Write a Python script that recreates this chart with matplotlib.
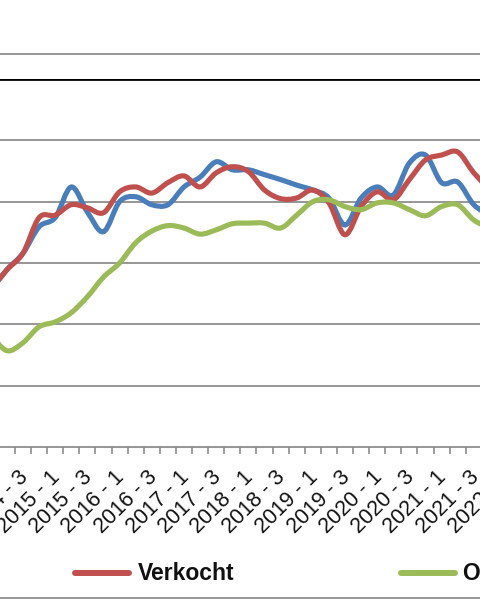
import numpy as np
import matplotlib
matplotlib.use('Agg')
import matplotlib.pyplot as plt
from matplotlib.path import Path
from matplotlib.patches import PathPatch
from matplotlib.lines import Line2D
from matplotlib.transforms import ScaledTranslation

plt.rcParams['font.family'] = ['Liberation Sans', 'DejaVu Sans']

# Quarter categories (2014 - 1 ... 2022 - 1)
quarters = ['2014 - 1', '2014 - 2', '2014 - 3', '2014 - 4',
            '2015 - 1', '2015 - 2', '2015 - 3', '2015 - 4',
            '2016 - 1', '2016 - 2', '2016 - 3', '2016 - 4',
            '2017 - 1', '2017 - 2', '2017 - 3', '2017 - 4',
            '2018 - 1', '2018 - 2', '2018 - 3', '2018 - 4',
            '2019 - 1', '2019 - 2', '2019 - 3', '2019 - 4',
            '2020 - 1', '2020 - 2', '2020 - 3', '2020 - 4',
            '2021 - 1', '2021 - 2', '2021 - 3', '2021 - 4',
            '2022 - 1']

series_blue_name = 'Te koop'
series_red_name = 'Verkocht'
series_green_name = 'Onder bod'

blue = [25.6, 28.9, 31.6, 35.9, 37.4, 42.4, 38.3, 35.1, 40.0, 40.8, 39.5,
        39.5, 42.4, 44.0, 46.5, 45.2, 45.2, 44.4, 43.6, 42.7, 41.9, 40.6,
        36.2, 40.6, 42.4, 41.1, 46.3, 47.6, 43.1, 43.2, 39.5, 37.8]
red = [25.6, 28.9, 31.6, 37.4, 37.8, 39.5, 39.0, 38.2, 41.6, 42.4, 41.4,
       43.1, 44.2, 42.4, 44.7, 45.7, 44.9, 41.9, 40.5, 40.6, 41.9, 39.8,
       34.6, 39.2, 41.6, 40.3, 43.6, 46.8, 47.6, 48.1, 44.7, 41.9]
green = [18.3, 15.7, 17.0, 19.6, 20.4, 21.9, 24.5, 27.7, 30.0, 33.3, 35.2,
         36.1, 35.7, 34.7, 35.4, 36.4, 36.5, 36.5, 35.7, 37.8, 40.0, 40.3,
         39.2, 38.7, 39.8, 39.8, 38.7, 37.7, 39.2, 39.5, 37.0, 35.7]

C_BLUE = '#4A7EBB'
C_RED = '#C0504D'
C_GREEN = '#9BBB59'
C_GRID = '#8E8E8E'
LABEL_FS = 15.5
LABEL_PAD = 14


def smooth_path(xs, ys):
    pts = np.column_stack([xs, ys]).astype(float)
    n = len(pts)
    verts = [pts[0]]
    codes = [Path.MOVETO]
    for i in range(n - 1):
        p0 = pts[i - 1] if i > 0 else pts[i]
        p1 = pts[i]
        p2 = pts[i + 1]
        p3 = pts[i + 2] if i + 2 < n else pts[i + 1]
        c1 = p1 + (p2 - p0) / 6.0
        c2 = p2 - (p3 - p1) / 6.0
        verts += [c1, c2, p2]
        codes += [Path.CURVE4] * 3
    return Path(verts, codes)


W, H = 480, 600
fig = plt.figure(figsize=(4.8, 6.0), dpi=100)

ax_bottom = 447
ax_top = 79
ax = fig.add_axes([0, 1 - ax_bottom / H, 1, (ax_bottom - ax_top) / H])

x_idx = np.arange(len(blue))
for vals, col in [(blue, C_BLUE), (red, C_RED), (green, C_GREEN)]:
    patch = PathPatch(smooth_path(x_idx, vals), facecolor='none', edgecolor=col,
                      lw=3.7, capstyle='round', joinstyle='round')
    ax.add_patch(patch)

ax.set_yticks([10, 20, 30, 40, 50])
ax.yaxis.grid(True, color=C_GRID, lw=1.3)
ax.axhline(60, color='black', lw=2.0, zorder=1)
ax.tick_params(axis='y', left=False, labelleft=False)

label_pos = np.arange(0, len(quarters), 2)
ax.set_xticks(label_pos)
ax.set_xticklabels([quarters[i] for i in label_pos], rotation=45, ha='right',
                   rotation_mode='anchor', fontsize=LABEL_FS, color='#111111')
ax.set_xticks(np.arange(-0.5, len(quarters), 1), minor=True)
ax.tick_params(axis='x', which='major', length=0, pad=LABEL_PAD)
ax.tick_params(axis='x', which='minor', length=5, width=1.2, color=C_GRID,
               direction='out')
shift = ScaledTranslation(-4 / 72, 0, fig.dpi_scale_trans)
for lab in ax.get_xticklabels():
    lab.set_transform(lab.get_transform() + shift)

# x range: category '2014 - 3' (idx 2) sits at pixel 23, 16.1 px per quarter
px_per_q = 16.1
x0 = 2 - 23 / px_per_q
ax.set_xlim(x0, x0 + W / px_per_q)
ax.set_ylim(0, 60)

# the last category label sits just past the right edge; only its start shows
last = len(quarters) - 1
ax.text(last, 0, quarters[last], rotation=45, ha='right', va='top',
        rotation_mode='anchor', fontsize=LABEL_FS, color='#111111',
        clip_on=False,
        transform=ax.get_xaxis_transform()
        + ScaledTranslation(-4 / 72, -LABEL_PAD / 72, fig.dpi_scale_trans))

for s in ['left', 'right', 'top']:
    ax.spines[s].set_visible(False)
ax.spines['bottom'].set_color(C_GRID)
ax.spines['bottom'].set_linewidth(1.3)
ax.set_axisbelow(True)

# chart border lines (top and bottom of chart area)
for yy in [54, 598]:
    fig.add_artist(Line2D([0, 1], [1 - yy / H] * 2, transform=fig.transFigure,
                          color=C_GRID, lw=1.3))

# legend (blue entry lies outside the visible area)
ly = 1 - 573 / H
for (xa, xb, col, tx, label) in [(75, 129, C_RED, 138, series_red_name),
                                 (401, 455, C_GREEN, 463, series_green_name)]:
    fig.add_artist(Line2D([xa / W, xb / W], [ly, ly], transform=fig.transFigure,
                          color=col, lw=4.3, solid_capstyle='round'))
    fig.text(tx / W, ly, label, fontsize=16.5, fontweight='bold',
             va='center', ha='left', color='#111111')

fig.savefig('out.png', dpi=100)
